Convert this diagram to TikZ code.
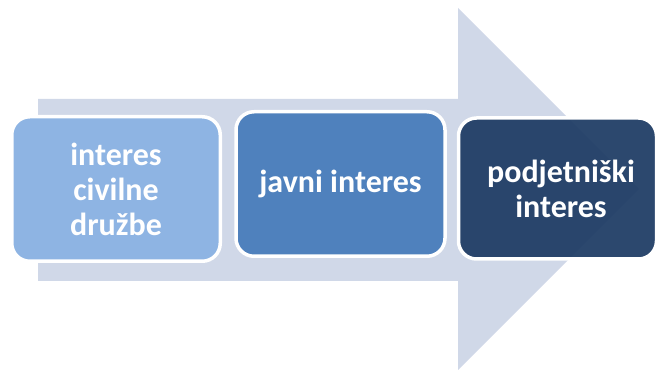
\documentclass[tikz,border=0pt]{standalone}
\usepackage{fontspec}
\setmainfont{Carlito}
\begin{document}
\begin{tikzpicture}[x=1pt,y=-1pt,
  stage/.style={draw=white, line width=3.5pt, rounded corners=18pt,
    inner sep=0pt, minimum width=208.5pt, minimum height=144.5pt,
    align=center, text=white, font=\fontsize{32}{35}\selectfont\bfseries},
  stagetext/.style={align=center, text=white, inner sep=0pt,
    font=\fontsize{32}{35}\selectfont\bfseries}]
\definecolor{arrowbg}{HTML}{D0D8E8}
\definecolor{stageA}{HTML}{8EB4E3}
\definecolor{stageB}{HTML}{4F81BD}
\definecolor{stageC}{HTML}{213E66}
\useasboundingbox (0,0) rectangle (657,371);
% broad background arrow
\fill[arrowbg] (38,99) -- (458,99) -- (458,8) -- (639,189) -- (458,370)
  -- (458,281) -- (38,281) -- cycle;
% three stages
\node[stage, fill=stageA] (s1) at (116,189) {interes\\civilne\\družbe};
\node[stage, fill=stageB, minimum width=209pt] (s2) at (340.5,184) {javni interes};
\node[stage, fill=stageC, fill opacity=0.95, draw opacity=1,
  minimum width=198pt, minimum height=141pt] (s3) at (557.5,188.5) {};
\node[stagetext] (t3) at (561,189) {podjetniški\\interes};
\end{tikzpicture}
\end{document}
